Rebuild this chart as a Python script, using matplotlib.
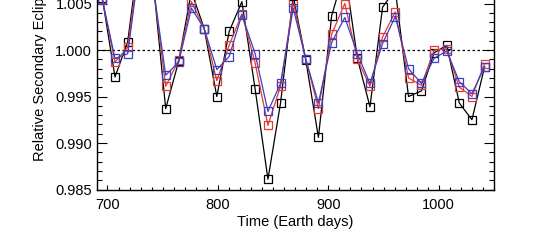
import matplotlib
matplotlib.use("Agg")
import matplotlib.pyplot as plt
from matplotlib.ticker import MultipleLocator, FormatStrFormatter

# Observation times (Earth days)
time_days = [695.3, 706.8, 718.3, 729.9, 741.4, 752.7, 764.5, 776.0, 787.6, 799.0,
             810.2, 821.7, 833.7, 845.3, 856.7, 868.2, 879.6, 891.0, 903.0, 914.9,
             926.3, 937.7, 949.1, 960.6, 972.6, 984.3, 995.7, 1007.2, 1018.6, 1030.0,
             1041.5]

# Relative secondary eclipse depth, three cases
depth_black = [1.0056, 0.9971, 1.0009, 1.0115, 1.0073, 0.9937, 0.9988, 1.0063, 1.0023, 0.9950,
               1.0020, 1.0052, 0.9958, 0.9861, 0.9943, 1.0058, 0.9989, 0.9906, 1.0037, 1.0085,
               0.9991, 0.9939, 1.0046, 1.0065, 0.9950, 0.9956, 0.9997, 1.0005, 0.9943, 0.9925,
               0.9982]
depth_red = [1.0055, 0.9987, 1.0003, 1.0105, 1.0070, 0.9961, 0.9989, 1.0052, 1.0023, 0.9967,
             1.0005, 1.0039, 0.9986, 0.9919, 0.9961, 1.0052, 0.9990, 0.9937, 1.0017, 1.0050,
             0.9990, 0.9961, 1.0014, 1.0041, 0.9970, 0.9962, 1.0000, 1.0001, 0.9960, 0.9950,
             0.9985]
depth_blue = [1.0054, 0.9991, 0.9996, 1.0100, 1.0068, 0.9973, 0.9987, 1.0045, 1.0023, 0.9979,
              0.9993, 1.0038, 0.9996, 0.9934, 0.9964, 1.0045, 0.9990, 0.9943, 1.0008, 1.0035,
              0.9996, 0.9964, 1.0007, 1.0036, 0.9980, 0.9964, 0.9991, 0.9999, 0.9966, 0.9953,
              0.9982]

plt.rcParams["font.family"] = ["Liberation Sans", "DejaVu Sans"]

fig = plt.figure(figsize=(5.38, 2.52), dpi=100)
# axes runs past the top edge (the reference is a crop of a taller panel)
ax = fig.add_axes([0.1803, 0.248, 0.7379, 1.107])

series = [(depth_black, "black"), (depth_red, "#e23a34"), (depth_blue, "#3b3fc4")]
for depth, col in series:
    ax.plot(time_days, depth, color=col, lw=0.9, marker="s", ms=5.5,
            mfc="none", mec=col, mew=0.9)

ax.axhline(1.0, color="black", ls=(0, (2, 2)), lw=0.9, zorder=0)

ax.set_xlim(690.5, 1050)
ax.set_ylim(0.985, 1.015)

ax.xaxis.set_major_locator(MultipleLocator(100))
ax.xaxis.set_minor_locator(MultipleLocator(10))
ax.yaxis.set_major_locator(MultipleLocator(0.005))
ax.yaxis.set_minor_locator(MultipleLocator(0.001))
ax.yaxis.set_major_formatter(FormatStrFormatter("%.3f"))

ax.tick_params(which="both", direction="in", top=True, right=True, width=0.8,
               labelsize=10.5, color="black")
ax.tick_params(axis="x", which="major", length=3.8, pad=6)
ax.tick_params(axis="x", which="minor", length=2)
ax.tick_params(axis="y", which="major", length=7, pad=3.5)
ax.tick_params(axis="y", which="minor", length=3.6)
for sp in ax.spines.values():
    sp.set_linewidth(1.0)

ax.set_xlabel("Time (Earth days)", fontsize=10.5, labelpad=2)
ax.set_ylabel("Relative Secondary Eclipse Depth", fontsize=10.5, labelpad=6)

fig.savefig("out.png", dpi=100)
